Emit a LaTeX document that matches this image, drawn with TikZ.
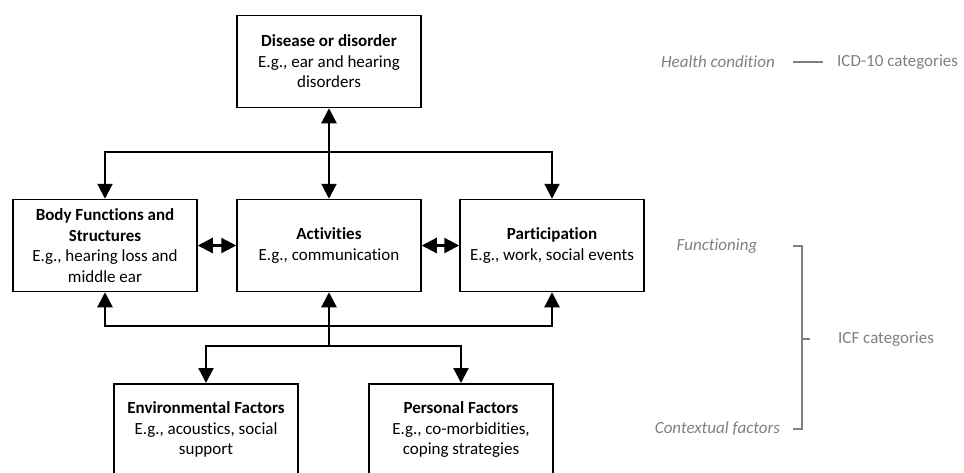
\documentclass[tikz,border=0pt]{standalone}
\usepackage{fontspec}
\setmainfont{Carlito}[Ligatures=CommonOff]
\usetikzlibrary{arrows.meta,calc}
\definecolor{labelgray}{RGB}{128,128,128}
\tikzset{
  box/.style={draw, line width=1.5pt, minimum width=184pt, minimum height=92pt,
    align=center, inner sep=2pt, font=\fontsize{17}{20.5}\selectfont},
  conn/.style={line width=2.3pt, -{Triangle[length=15pt,width=15pt]}},
  biconn/.style={line width=2.3pt, {Triangle[length=15pt,width=15pt]}-{Triangle[length=15pt,width=15pt]}},
  side/.style={text=labelgray, font=\fontsize{17}{20.5}\selectfont, inner sep=0pt},
  bracket/.style={draw=labelgray, line width=1.5pt}
}
\begin{document}
\begin{tikzpicture}[x=1pt,y=-1pt]
\useasboundingbox (0,0) rectangle (964,472);
\clip (0,0) rectangle (964,472);

% Health condition
\node[box] (dis) at (329,61.5) {\textbf{Disease or disorder}\\E.g., ear and hearing\\disorders};

% Functioning
\node[box] (body) at (105,245.5) {\textbf{Body Functions and}\\\textbf{Structures}\\E.g., hearing loss and\\middle ear};
\node[box] (act) at (329,245.5) {\textbf{Activities}\\E.g., communication};
\node[box] (par) at (552,245.5) {\textbf{Participation}\\E.g., work, social events};

% Contextual factors (boxes run past the lower edge)
\node[box, anchor=north] (env) at (206,383) {\textbf{Environmental Factors}\\E.g., acoustics, social\\support};
\node[box, anchor=north] (pers) at (461,383) {\textbf{Personal Factors}\\E.g., co-morbidities,\\coping strategies};

% Connectors
\coordinate (tb) at (329,152);
\coordinate (bb) at (329,326);
\coordinate (lb) at (329,346);
\draw[biconn] (dis.south) -- (act.north);
\draw[conn] (tb) -| (body.north);
\draw[conn] (tb) -| (par.north);
\draw[biconn] (body.east) -- (act.west);
\draw[biconn] (act.east) -- (par.west);
\draw[conn] (bb) -| (body.south);
\draw[conn] (bb) -| (par.south);
\draw[conn] (lb) -- (act.south);
\draw[conn] (lb) -| (env.north);
\draw[conn] (lb) -| (pers.north);

% Side labels
\node[side, anchor=east] (hc) at (775,62) {\textit{Health condition}};
\node[side, anchor=west] (icd) at (837,62) {ICD-10 categories};
\draw[bracket] ([xshift=18pt]hc.east) -- ([xshift=-14pt]icd.west);

\node[side] (fun) at (717,246) {\textit{Functioning}};
\node[side] (ctx) at (717.5,429) {\textit{Contextual factors}};
\node[side, anchor=west] (icf) at (838,339) {ICF categories};
\coordinate (bt) at (802,246);
\coordinate (bm) at (802,339);
\coordinate (bbt) at (802,429);
\draw[bracket] ([xshift=-9pt]bt) -- (bt) -- (bbt) -- ([xshift=-9pt]bbt);
\draw[bracket] (bm) -- ([xshift=8pt]bm);
\end{tikzpicture}
\end{document}
